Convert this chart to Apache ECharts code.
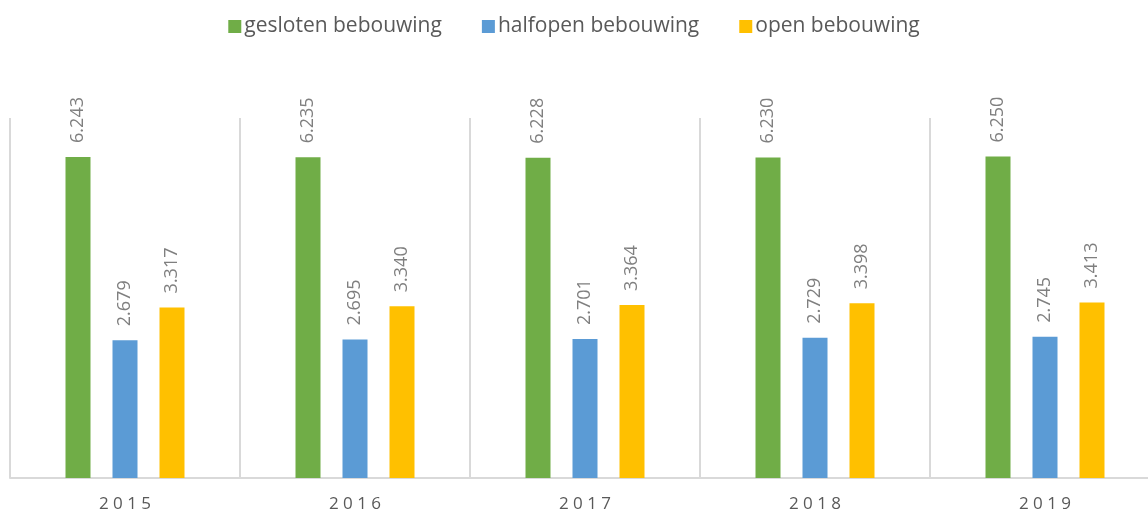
<!DOCTYPE html>
<html>
<head>
<meta charset="utf-8">
<script src="https://cdn.jsdelivr.net/npm/echarts@6/dist/echarts.min.js"></script>
<style>
  html, body { margin: 0; padding: 0; background: #fff; }
  #chart { width: 1148px; height: 514px; }
</style>
</head>
<body>
<div id="chart"></div>
<script>
var years = ['2015', '2016', '2017', '2018', '2019'];
var gesloten = [6243, 6235, 6228, 6230, 6250];
var halfopen = [2679, 2695, 2701, 2729, 2745];
var open = [3317, 3340, 3364, 3398, 3413];

document.addEventListener('DOMContentLoaded', function () {
    var chartDom = document.getElementById('chart');
    var myChart = echarts.init(chartDom);
    var option;

    function fmt(v) {
        var s = String(v);
        return s.slice(0, s.length - 3) + '.' + s.slice(s.length - 3);
    }

    var labelStyle = {
        show: true,
        position: 'top',
        rotate: 90,
        align: 'left',
        verticalAlign: 'middle',
        distance: 14,
        color: '#7f7f7f',
        fontSize: 18,
        fontFamily: 'Open Sans',
        formatter: function (p) { return fmt(p.value); }
    };

    option = {
        textStyle: { fontFamily: 'Open Sans' },
        legend: {
            top: 11,
            left: 'center',
            itemWidth: 13,
            itemHeight: 13,
            itemGap: 40,
            icon: 'rect',
            textStyle: { fontSize: 21, color: '#595959', padding: [0, 0, 0, -2] }
        },
        grid: { left: 10, top: 118, width: 1150, height: 360, outerBoundsMode: 'none', containLabel: false },
        xAxis: {
            type: 'category',
            data: years,
            axisLine: { lineStyle: { color: '#d9d9d9', width: 2 } },
            axisTick: { show: false },
            splitLine: { show: true, lineStyle: { color: '#d9d9d9', width: 2 } },
            axisLabel: {
                margin: 18,
                fontSize: 17,
                color: '#595959',
                formatter: function (v) { return v.split('').join(' '); }
            }
        },
        yAxis: {
            type: 'value',
            min: 0,
            max: 7000,
            show: false,
            splitLine: { show: false }
        },
        series: [
            {
                name: 'gesloten bebouwing',
                type: 'bar',
                data: gesloten,
                barWidth: 25,
                barGap: '88%',
                itemStyle: { color: '#70ad47' },
                label: labelStyle
            },
            {
                name: 'halfopen bebouwing',
                type: 'bar',
                data: halfopen,
                barWidth: 25,
                barGap: '88%',
                itemStyle: { color: '#5b9bd5' },
                label: labelStyle
            },
            {
                name: 'open bebouwing',
                type: 'bar',
                data: open,
                barWidth: 25,
                barGap: '88%',
                itemStyle: { color: '#ffc000' },
                label: labelStyle
            }
        ]
    };

    option && myChart.setOption(option);
});
</script>
</body>
</html>
